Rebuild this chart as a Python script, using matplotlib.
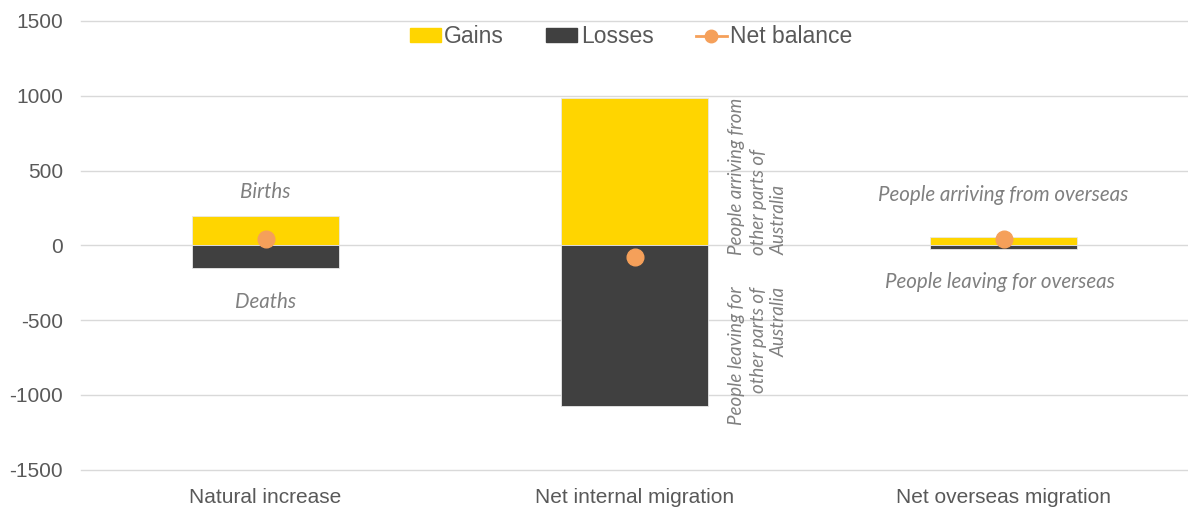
import numpy as np
import matplotlib.pyplot as plt
from matplotlib.lines import Line2D
from matplotlib.patches import Patch

### Population change components
categories = ['Natural increase', 'Net internal migration', 'Net overseas migration']
gains = [195, 985, 55]
losses = [-152, -1072, -22]
net_balance = [45, -80, 40]

yticks = [-1500, -1000, -500, 0, 500, 1000, 1500]

gain_color = '#FFD500'
loss_color = '#404040'
net_color = '#F5A05A'
text_grey = '#595959'
note_grey = '#808080'

plt.rcParams['font.family'] = ['Liberation Sans', 'DejaVu Sans']

fig = plt.figure(figsize=(11.88, 5.07), dpi=100)
ax = fig.add_axes([81 / 1188, 1 - 469.5 / 507, 1 - 81 / 1188, (469.5 - 21) / 507])

x = np.arange(len(categories))
ax.bar(x, gains, width=0.4, color=gain_color, edgecolor='#e8e8e8', linewidth=0.6, zorder=2)
ax.bar(x, losses, width=0.4, color=loss_color, edgecolor='#e8e8e8', linewidth=0.6, zorder=2)
ax.plot(x, net_balance, linestyle='none', marker='o', markersize=12,
        color=net_color, zorder=3)

ax.set_xlim(-0.5, 2.5)
ax.set_ylim(-1500, 1500)
ax.set_yticks(yticks)
ax.set_yticklabels([str(t) for t in yticks])
ax.set_xticks(x)
ax.set_xticklabels(categories)
ax.tick_params(axis='both', length=0, labelsize=15, colors=text_grey)
ax.tick_params(axis='y', pad=13)
ax.tick_params(axis='x', pad=13)
ax.grid(axis='y', color='#d9d9d9', linewidth=1, zorder=0)
for gl in ax.get_ygridlines():
    gl.set_clip_on(False)
ax.set_axisbelow(True)
for s in ax.spines.values():
    s.set_visible(False)

# component notes
note = dict(color=note_grey, style='italic', family=['Lato', 'DejaVu Sans'])
ax.text(0, 358, 'Births', ha='center', va='center', fontsize=14.8, **note)
ax.text(0, -378, 'Deaths', ha='center', va='center', fontsize=14.8, **note)
ax.text(2, 338, 'People arriving from overseas', ha='center', va='center', fontsize=14.8, **note)
ax.text(1.99, -244, 'People leaving for overseas', ha='center', va='center', fontsize=14.8, **note)
ax.text(1.335, -64, 'People arriving from\nother parts of\nAustralia', rotation=90,
        ha='center', va='bottom', multialignment='left', linespacing=1.32,
        fontsize=13.5, **note)
ax.text(1.335, -278, 'People leaving for\nother parts of\nAustralia', rotation=90,
        ha='center', va='top', multialignment='right', linespacing=1.32,
        fontsize=13.5, **note)

handles = [Patch(color=gain_color, label='Gains'),
           Patch(color=loss_color, label='Losses'),
           Line2D([0], [0], color=net_color, marker='o', markersize=9, linewidth=2,
                  label='Net balance')]
leg = ax.legend(handles=handles, loc='center', bbox_to_anchor=(0.497, 0.965), ncol=3,
                frameon=False, fontsize=16.5, handlelength=1.35, handleheight=0.55,
                handletextpad=0.15, columnspacing=1.85, borderpad=0)
for t in leg.get_texts():
    t.set_color(text_grey)

fig.savefig('out.png', dpi=100)
